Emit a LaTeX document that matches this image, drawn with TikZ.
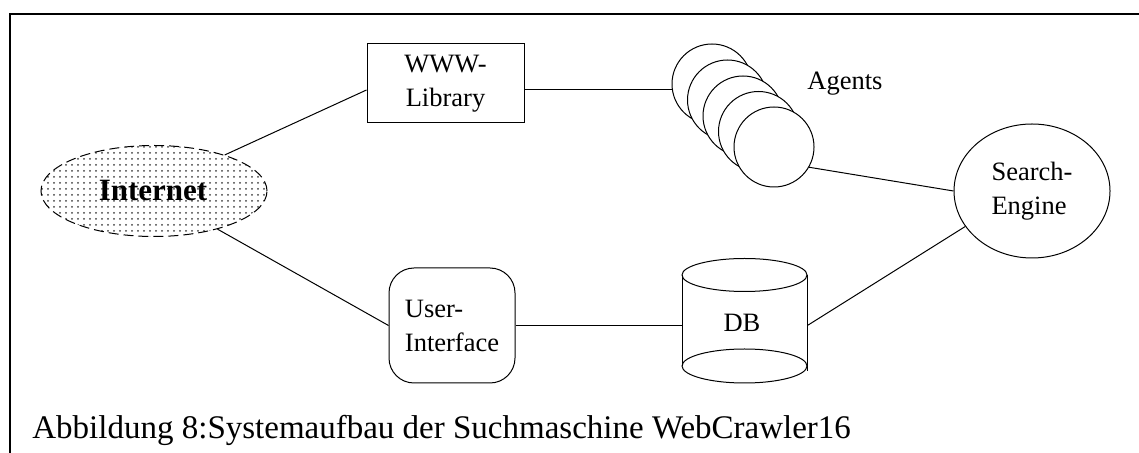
\documentclass[tikz,border=0pt]{standalone}
\usepackage{fontspec}
\setmainfont{Liberation Serif}
\usetikzlibrary{shapes.geometric,patterns}
\tikzset{
  conn/.style={line width=0.5pt},
  lbl/.style={font=\fontsize{13.25}{17}\selectfont},
  agent/.style={circle, draw, fill=white, line width=0.5pt, minimum size=40pt, inner sep=0pt},
}
\begin{document}
\begin{tikzpicture}[x=0.5pt,y=-0.5pt]
\useasboundingbox (0,0) rectangle (1139,453);
% outer frame (open at right and bottom)
\draw[line width=1pt] (9.5,453) -- (9.5,14) -- (1139,14);

% Internet cloud
\node[ellipse, draw, dash pattern=on 5pt off 2.5pt, line width=0.5pt,
      pattern=dots, pattern color=black!75,
      minimum width=113pt, minimum height=45.5pt, inner sep=0pt] (inet) at (154,191) {};
\node[font=\fontsize{15.5}{18}\selectfont\bfseries] (inettxt) at (153,191) {Internet};

% WWW-Library
\node[draw, line width=0.5pt, minimum width=78.5pt, minimum height=39.5pt, inner sep=0pt,
      lbl, align=center] (lib) at (445.5,83.5) {WWW-\\Library};

% Agents stack
\foreach \i/\px/\py in {1/712/84, 2/727.5/100, 3/743/116, 4/758.5/131.5, 5/774/147}
  \node[agent] (ag\i) at (\px,\py) {};
\node[lbl] (agtxt) at (845,84) {Agents};

% Search engine
\node[ellipse, draw, line width=0.5pt, minimum width=78pt, minimum height=67pt,
      inner sep=0pt, lbl, align=left] (se) at (1032,191) {Search-\\Engine};

% User interface
\node[draw, line width=0.5pt, rounded corners=12.5pt, minimum width=63pt,
      minimum height=57.5pt, inner sep=0pt, lbl, align=left] (ui) at (452,325.5) {User-\\Interface};

% Database cylinder
\node[minimum width=62.5pt, minimum height=62pt, inner sep=0pt] (db) at (744.5,325.5) {};
\draw[line width=0.5pt] (744.5,275) ellipse [x radius=31.25pt, y radius=8.25pt];
\draw[line width=0.5pt] (744.5,366) ellipse [x radius=31.25pt, y radius=8.5pt];
\draw[line width=0.5pt] (682,275) -- (682,366) (807,275) -- (807,371);
\node[lbl] (dbtxt) at (742,323) {DB};

% connectors
\draw[conn] (inet.27) -- ([yshift=-3.25pt]lib.west);
\draw[conn] ([yshift=-3.25pt]lib.east) -- ([yshift=-3.25pt]lib.east -| ag1.west);
\draw[conn] (ag5.-30) -- (se.west);
\draw[conn] (inet.-31) -- (ui.west);
\draw[conn] (ui.east) -- (ui.east -| db.west);
\draw[conn] (db.east) -- (se.208);

% caption
\node[anchor=base west, inner sep=0pt, font=\fontsize{16.5}{20}\selectfont] (cap) at (32,438)
  {Abbildung 8:Systemaufbau der Suchmaschine WebCrawler16};
\end{tikzpicture}
\end{document}
